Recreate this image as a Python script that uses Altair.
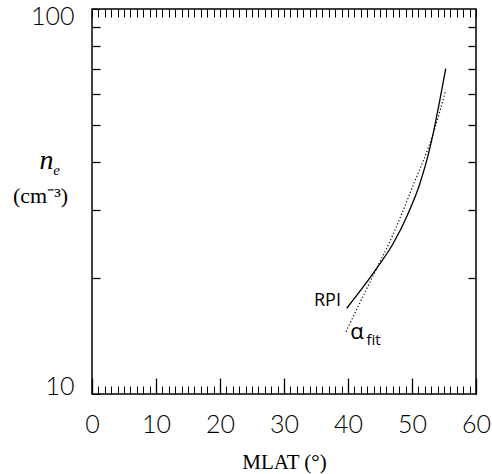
import altair as alt
import pandas as pd

# RPI model curve (solid)
rpi_mlat = [39.8, 44.48, 47.08, 49.17, 51.25, 52.55, 53.33, 54.38, 55.27]
rpi_ne = [16.70, 21.2, 24.63, 28.87, 35.26, 41.9, 47.7, 58.3, 70.0]

# alpha fit curve (dotted)
fit_mlat = [39.69, 44.48, 46.41, 50.31, 53.33, 55.27]
fit_ne = [14.52, 21.2, 24.63, 35.26, 47.55, 61.6]

# annotation positions (data coords)
rpi_text = ["RPI"]
rpi_lab_mlat = [38.9]
rpi_lab_ne = [17.4]
alpha_text = ["α"]
alpha_mlat = [41.4]
alpha_ne = [14.5]
sub_text = ["fit"]
sub_mlat = [44.0]
sub_ne = [13.85]

x_major = [0, 10, 20, 30, 40, 50, 60]
x_minor = list(range(0, 61))
y_labels = [10, 100]
y_minor = [20, 30, 40, 50, 60, 70, 80, 90]

rpi = pd.DataFrame({"mlat": rpi_mlat, "ne": rpi_ne})
fit = pd.DataFrame({"mlat": fit_mlat, "ne": fit_ne})
lab = pd.DataFrame({"mlat": rpi_lab_mlat, "ne": rpi_lab_ne, "t": rpi_text})
alp = pd.DataFrame({"mlat": alpha_mlat, "ne": alpha_ne, "t": alpha_text})
sub = pd.DataFrame({"mlat": sub_mlat, "ne": sub_ne, "t": sub_text})

xs = alt.Scale(domain=[0, 60], nice=False, zero=False)
ys = alt.Scale(type="log", domain=[10, 100], nice=False)

LF = "Lato"

rpi_layer = alt.Chart(rpi).mark_line(color="black", strokeWidth=1.3, interpolate="monotone").encode(
    x=alt.X("mlat:Q", scale=xs, axis=alt.Axis(
        orient="bottom", values=x_major, tickSize=16, offset=-16, domain=False,
        tickColor="black", tickWidth=1.3, labelFont=LF, labelFontWeight=300,
        labelFontSize=25, labelColor="black", labelPadding=18, labelFlush=False,
        format="d",
        title="MLAT (°)", titleFont="Liberation Serif", titleFontSize=21,
        titleFontWeight="normal", titleColor="black", titleX=192, titleY=84,
        titleBaseline="middle", titleAlign="center")),
    y=alt.Y("ne:Q", scale=ys, axis=alt.Axis(
        orient="left", values=y_labels, tickSize=8, offset=-8, domain=False,
        tickColor="black", labelFont=LF, labelFontWeight=300, labelFontSize=25,
        labelColor="black", labelPadding=18, labelFlush=True, labelFlushOffset=5,
        format="d",
        title="n", titleFont="Liberation Serif", titleFontStyle="italic",
        titleFontWeight="normal", titleFontSize=28, titleColor="black",
        titleAngle=0, titleX=-54, titleY=151, titleAlign="center",
        titleBaseline="middle")),
)

fit_layer = alt.Chart(fit).mark_line(color="black", strokeWidth=1.2, strokeDash=[1.2, 2.2],
                                      interpolate="monotone").encode(
    x=alt.X("mlat:Q", scale=xs, axis=alt.Axis(
        orient="bottom", values=x_minor, tickSize=8, offset=-8, domain=False,
        tickColor="black", tickWidth=1, labels=False, title=None)),
    y=alt.Y("ne:Q", scale=ys, axis=alt.Axis(
        orient="left", values=y_minor, tickSize=8, offset=-8, domain=False,
        tickColor="black", tickWidth=1.3, labels=False,
        title="(cm⁻³)", titleFont="Liberation Serif", titleFontStyle="normal",
        titleFontWeight="normal", titleFontSize=22, titleColor="black",
        titleAngle=0, titleX=-60, titleY=186, titleAlign="center",
        titleBaseline="middle")),
)

lab_layer = alt.Chart(lab).mark_text(font="Open Sans", fontSize=18, color="black", align="right").encode(
    x=alt.X("mlat:Q", scale=xs, axis=alt.Axis(
        orient="top", values=x_minor, tickSize=8, offset=-8, domain=False,
        tickColor="black", tickWidth=1, labels=False, title=None)),
    y=alt.Y("ne:Q", scale=ys, axis=alt.Axis(
        orient="right", values=y_minor, tickSize=8, offset=-8, domain=False,
        tickColor="black", tickWidth=1.3, labels=False, title=None)),
    text="t:N",
)

alpha_layer = alt.Chart(alp).mark_text(font="Open Sans", fontSize=22, color="black").encode(
    x=alt.X("mlat:Q", scale=xs, axis=None),
    y=alt.Y("ne:Q", scale=ys, axis=None),
    text="t:N",
)

sub_layer = alt.Chart(sub).mark_text(font="Open Sans", fontSize=15, color="black").encode(
    x=alt.X("mlat:Q", scale=xs, axis=None),
    y=alt.Y("ne:Q", scale=ys, axis=alt.Axis(
        orient="left", values=[], ticks=False, labels=False, domain=False,
        title="e", titleFont="Liberation Serif", titleFontStyle="italic",
        titleFontWeight="normal", titleFontSize=15, titleColor="black",
        titleAngle=0, titleX=-36, titleY=160, titleAlign="center",
        titleBaseline="middle")),
    text="t:N",
)

chart = alt.layer(rpi_layer, fit_layer, lab_layer, alpha_layer, sub_layer).resolve_axis(
    x="independent", y="independent"
).resolve_scale(x="shared", y="shared").properties(
    width=384, height=385,
    autosize=alt.AutoSizeParams(type="none"),
    padding={"left": 92, "top": 9, "right": 16, "bottom": 80},
).configure_view(stroke="black", strokeWidth=1.5).configure_axis(grid=False)

chart.save("out.html", embed_options={"renderer": "svg", "actions": False})
